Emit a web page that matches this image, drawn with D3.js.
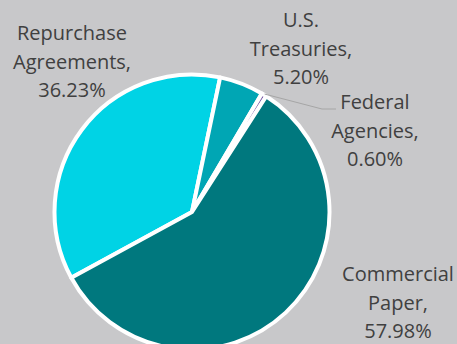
<!DOCTYPE html>
<html>
<head>
<meta charset="utf-8">
<script src="https://cdn.jsdelivr.net/npm/d3@7"></script>
<style>
  html, body { margin: 0; padding: 0; background: #c8c8ca; }
  svg { display: block; }
</style>
</head>
<body>
<svg id="chart" width="457" height="344"></svg>
<script>
// Portfolio composition by instrument type
const categories = ["Repurchase Agreements", "U.S. Treasuries", "Federal Agencies", "Commercial Paper"];
const shares = [36.23, 5.20, 0.60, 57.98];
const sliceColors = ["#00d3e5", "#00a6b4", "#7a5ca8", "#00787e"];
// Label text, broken into lines as printed
const labelLines = [
  ["Repurchase", "Agreements,", "36.23%"],
  ["U.S.", "Treasuries,", "5.20%"],
  ["Federal", "Agencies,", "0.60%"],
  ["Commercial", "Paper,", "57.98%"]
];

const W = 457, H = 344;
const cx = 192, cy = 212, radius = 137.5;

const svg = d3.select("#chart");
svg.append("rect").attr("width", W).attr("height", H).attr("fill", "#c8c8ca");

const data = categories.map((c, i) => ({ name: c, value: shares[i], color: sliceColors[i], lines: labelLines[i] }));

const start = -118.6 * Math.PI / 180;
const pie = d3.pie().value(d => d.value).sort(null)
  .startAngle(start).endAngle(start + 2 * Math.PI);
const arcs = pie(data);
const arc = d3.arc().innerRadius(0).outerRadius(radius);

const g = svg.append("g").attr("transform", `translate(${cx},${cy})`);
g.selectAll("path.slice")
  .data(arcs)
  .join("path")
  .attr("class", "slice")
  .attr("d", arc)
  .attr("fill", d => d.data.color)
  .attr("stroke", "#ffffff")
  .attr("stroke-width", 4)
  .attr("stroke-linejoin", "round");

// Label anchors (centre x, first baseline y)
const labelPos = [
  { x: 72, y: 40 },
  { x: 301, y: 27 },
  { x: 375, y: 109 },
  { x: 398, y: 281 }
];
const lineGap = 28.5;

// Leader line for the small Federal Agencies slice
const fa = arcs[2];
const mid = (fa.startAngle + fa.endAngle) / 2;
const ex = cx + Math.sin(mid) * (radius + 1);
const ey = cy - Math.cos(mid) * (radius + 1);
svg.append("path")
  .attr("d", d3.line()([[ex, ey], [322, 109], [336, 109]]))
  .attr("fill", "none")
  .attr("stroke", "#a6a6a6")
  .attr("stroke-width", 1);

const labels = svg.append("g")
  .attr("font-family", "'Open Sans', sans-serif")
  .attr("font-size", 20)
  .attr("fill", "#404040")
  .attr("text-anchor", "middle");

arcs.forEach((a, i) => {
  const t = labels.append("text");
  a.data.lines.forEach((ln, j) => {
    t.append("tspan")
      .attr("x", labelPos[i].x)
      .attr("y", labelPos[i].y + j * lineGap)
      .text(ln);
  });
});
</script>
</body>
</html>
